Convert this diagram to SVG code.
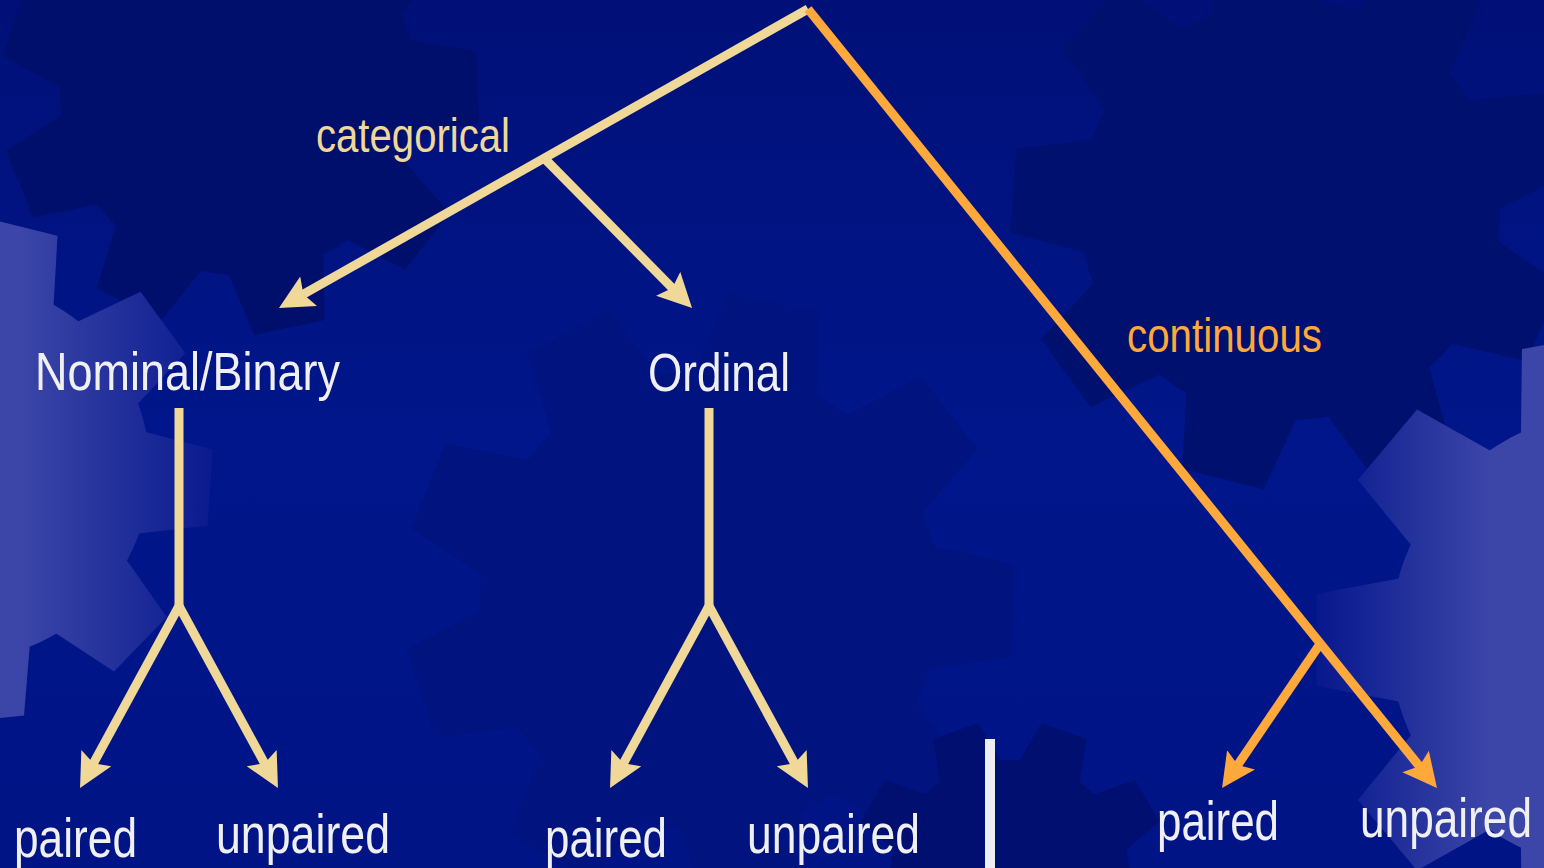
<svg xmlns="http://www.w3.org/2000/svg" xmlns:xlink="http://www.w3.org/1999/xlink" width="1544" height="868" viewBox="0 0 1544 868">
<style>
.lbl{font-family:"Liberation Sans",Arial,sans-serif;fill:#f0f0f2}
.cat{font-family:"Liberation Sans",Arial,sans-serif;fill:#f0d898}
.con{font-family:"Liberation Sans",Arial,sans-serif;fill:#ffa83c}
.tan{stroke:#f0d898;stroke-width:9;fill:none;marker-end:url(#ahTan)}
.tanl{stroke:#f0d898;stroke-width:9;fill:none}
.org{stroke:#ffa83c;stroke-width:9;fill:none;marker-end:url(#ahOrg)}
</style>
<defs>
<marker id="ahTan" markerUnits="userSpaceOnUse" markerWidth="36" markerHeight="36" refX="14" refY="17" orient="auto" viewBox="0 0 36 36">
<path d="M0,0 L34,17 L0,34 L6,17 z" fill="#f0d898"/>
</marker>
<marker id="ahOrg" markerUnits="userSpaceOnUse" markerWidth="36" markerHeight="36" refX="14" refY="17" orient="auto" viewBox="0 0 36 36">
<path d="M0,0 L34,17 L0,34 L6,17 z" fill="#ffa83c"/>
</marker>
<polygon id="tooth" points="-27,-95 27,-95 20,-132 -20,-132"/>
<g id="gear">
<circle r="100"/>
<use href="#tooth"/>
<use href="#tooth" transform="rotate(40)"/>
<use href="#tooth" transform="rotate(80)"/>
<use href="#tooth" transform="rotate(120)"/>
<use href="#tooth" transform="rotate(160)"/>
<use href="#tooth" transform="rotate(200)"/>
<use href="#tooth" transform="rotate(240)"/>
<use href="#tooth" transform="rotate(280)"/>
<use href="#tooth" transform="rotate(320)"/>
</g>
<mask id="maskL" maskUnits="userSpaceOnUse" x="0" y="0" width="1544" height="868"><use href="#gear" fill="#ffffff" transform="translate(-40,470) scale(1.9) rotate(14)"/></mask>
<mask id="maskR" maskUnits="userSpaceOnUse" x="0" y="0" width="1544" height="868"><use href="#gear" fill="#ffffff" transform="translate(1620,640) scale(2.3) rotate(-10)"/></mask>
<linearGradient id="lavL" gradientUnits="userSpaceOnUse" x1="20" y1="0" x2="220" y2="0">
<stop offset="0" stop-color="#3c46a8"/>
<stop offset="1" stop-color="#08198e"/>
</linearGradient>
<linearGradient id="lavR" gradientUnits="userSpaceOnUse" x1="1320" y1="0" x2="1490" y2="0">
<stop offset="0" stop-color="#08198e"/>
<stop offset="1" stop-color="#3c46a8"/>
</linearGradient>
<linearGradient id="bg" x1="0" y1="0" x2="0" y2="1">
<stop offset="0" stop-color="#001078"/>
<stop offset="0.5" stop-color="#00168a"/>
<stop offset="1" stop-color="#001486"/>
</linearGradient>
</defs>

<g id="background">
<rect width="1544" height="868" fill="url(#bg)"/>
<use href="#gear" transform="translate(710,600) scale(2.3) rotate(12)" fill="#00137e"/>
<use href="#gear" transform="translate(240,95) scale(1.8) rotate(8)" fill="#000f6c"/>
<use href="#gear" transform="translate(1290,210) scale(2.1) rotate(-6)" fill="#00106e"/>
<use href="#gear" transform="translate(1010,880) scale(1.2) rotate(20)" fill="#000f70"/>
<rect x="0" y="150" width="320" height="650" fill="url(#lavL)" mask="url(#maskL)"/>
<rect x="1300" y="300" width="244" height="568" fill="url(#lavR)" mask="url(#maskR)"/>
</g>

<g id="connectors">
<line class="tan" x1="808" y1="9" x2="296.4" y2="298.2"/>
<line class="tan" x1="545" y1="159" x2="678" y2="293.8"/>
<line class="org" x1="808" y1="9" x2="1424.4" y2="772.4"/>
<line class="org" x1="1320" y1="644" x2="1233.3" y2="771.5"/>
<line class="tanl" x1="179" y1="408" x2="179" y2="606"/>
<line class="tan" x1="179" y1="606" x2="89.6" y2="770.4"/>
<line class="tan" x1="179" y1="606" x2="268.4" y2="770.4"/>
<line class="tanl" x1="709" y1="408" x2="709" y2="606"/>
<line class="tan" x1="709" y1="606" x2="619.6" y2="770.4"/>
<line class="tan" x1="709" y1="606" x2="798.4" y2="770.4"/>
<rect x="985" y="739" width="10" height="130" fill="#eeeef0"/>
</g>

<g id="label-categorical"><text class="cat" x="316" y="152" font-size="49" textLength="194" lengthAdjust="spacingAndGlyphs">categorical</text></g>
<g id="label-continuous"><text class="con" x="1127" y="352" font-size="49" textLength="195" lengthAdjust="spacingAndGlyphs">continuous</text></g>
<g id="node-nominal"><text class="lbl" x="35" y="390" font-size="53" textLength="305" lengthAdjust="spacingAndGlyphs">Nominal/Binary</text></g>
<g id="node-ordinal"><text class="lbl" x="648" y="391" font-size="53" textLength="142" lengthAdjust="spacingAndGlyphs">Ordinal</text></g>
<g id="node-nom-paired"><text class="lbl" x="14" y="857" font-size="56" textLength="123" lengthAdjust="spacingAndGlyphs">paired</text></g>
<g id="node-nom-unpaired"><text class="lbl" x="216" y="853" font-size="56" textLength="174" lengthAdjust="spacingAndGlyphs">unpaired</text></g>
<g id="node-ord-paired"><text class="lbl" x="545" y="857" font-size="56" textLength="122" lengthAdjust="spacingAndGlyphs">paired</text></g>
<g id="node-ord-unpaired"><text class="lbl" x="747" y="853" font-size="56" textLength="173" lengthAdjust="spacingAndGlyphs">unpaired</text></g>
<g id="node-con-paired"><text class="lbl" x="1157" y="840" font-size="56" textLength="122" lengthAdjust="spacingAndGlyphs">paired</text></g>
<g id="node-con-unpaired"><text class="lbl" x="1360" y="837" font-size="56" textLength="172" lengthAdjust="spacingAndGlyphs">unpaired</text></g>
</svg>
